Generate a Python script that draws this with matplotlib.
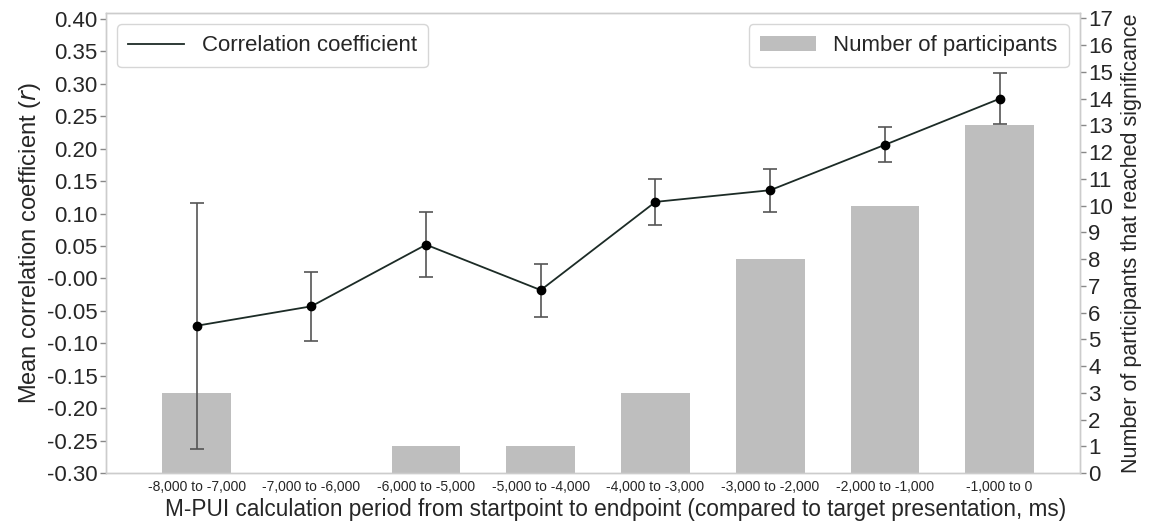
import matplotlib
matplotlib.use("Agg")
import matplotlib.pyplot as plt
import numpy as np

# data
periods = ["-8,000 to -7,000", "-7,000 to -6,000", "-6,000 to -5,000", "-5,000 to -4,000",
           "-4,000 to -3,000", "-3,000 to -2,000", "-2,000 to -1,000", "-1,000 to 0"]
mean_r = [-0.073, -0.043, 0.052, -0.018, 0.118, 0.136, 0.206, 0.277]
err_r = [0.190, 0.053, 0.050, 0.041, 0.035, 0.033, 0.027, 0.039]
n_sig = [3, 0, 1, 1, 3, 8, 10, 13]

plt.rcParams['font.family'] = ['Liberation Sans', 'DejaVu Sans']
spine_c = '#cccccc'
text_c = '#262626'

fig = plt.figure(figsize=(11.67, 5.25), dpi=100)
ax = fig.add_axes([0.0908, 0.099, 0.8346, 0.876])
ax2 = ax.twinx()
ax.set_zorder(ax2.get_zorder() + 1)
ax.patch.set_visible(False)

x = np.arange(len(periods))

# bars (right axis)
ax2.bar(x, n_sig, width=0.6, color='#bebebe', label='Number of participants')
ax2.set_ylim(0, 17.2)
ax2.set_yticks(range(0, 18))

# line with error bars (left axis)
ax.errorbar(x, mean_r, yerr=err_r, fmt='none', ecolor='#555555', elinewidth=1.2,
            capsize=5, capthick=1.2)
ax.plot(x, mean_r, color='#1c2b26', linewidth=1.3, label='Correlation coefficient')
ax.plot(x, mean_r, 'o', color='black', markersize=6)
ax.set_ylim(-0.30, 0.409)
yt = np.arange(-0.30, 0.401, 0.05)
ax.set_yticks(yt)
ax.set_yticklabels(['%.2f' % v if abs(v) > 1e-9 else '-0.00' for v in yt])
ax.set_xlim(-0.79, 7.70)
ax.set_xticks(x)
ax.set_xticklabels(periods, fontsize=10, color=text_c)

ax.set_xlabel('M-PUI calculation period from startpoint to endpoint (compared to target presentation, ms)',
              fontsize=16.3, color=text_c, labelpad=3)
ax.xaxis.label.set_x(0.523)
ax.set_ylabel('Mean correlation coefficient ($\\it{r}$)', fontsize=17, color=text_c, labelpad=3)
ax2.set_ylabel('Number of participants that reached significance', fontsize=15.5, color=text_c, labelpad=6)

for a in (ax, ax2):
    for s in a.spines.values():
        s.set_color(spine_c)
        s.set_linewidth(1.0)
    a.tick_params(axis='y', labelsize=16, colors=text_c, length=4, width=1, color='#888888', pad=2)
    a.tick_params(axis='x', length=0, pad=5)

ax.legend(loc='upper left', fontsize=16, frameon=True, edgecolor=spine_c,
          handlelength=2.5, borderpad=0.5, labelcolor=text_c, fancybox=True)
ax2.legend(loc='upper right', fontsize=16, frameon=True, edgecolor=spine_c,
           handlelength=2.5, borderpad=0.5, labelcolor=text_c, fancybox=True)

plt.savefig('out.png', dpi=100)
